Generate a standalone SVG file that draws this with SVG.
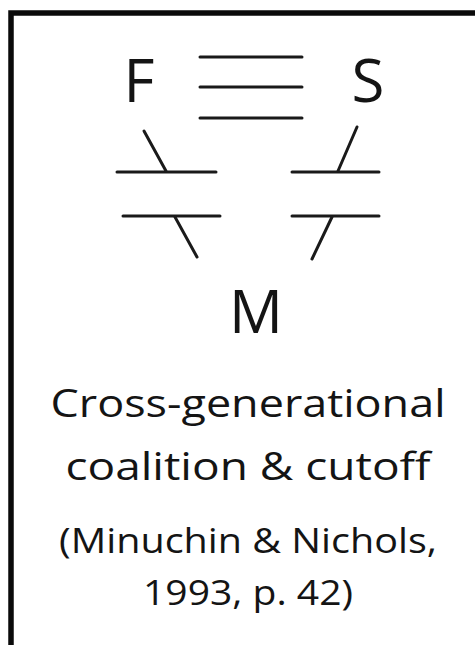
<svg xmlns="http://www.w3.org/2000/svg" width="475" height="645" viewBox="0 0 475 645">
<style>
.t{font-family:"Open Sans","Liberation Sans",sans-serif;fill:#141414;text-anchor:middle}
.big{font-size:60px}
.cap{font-size:39px}
.ref{font-size:35px}
.ln{stroke:#1a1a1a;stroke-width:3;stroke-linecap:round;fill:none}
</style>
<rect width="475" height="645" fill="#fff"/>
<path d="M11 650 V13 H480" fill="none" stroke="#0a0a0a" stroke-width="5.5"/>
<g id="node-F"><text class="t big" x="139" y="102">F</text></g>
<g id="node-S"><text class="t big" x="368" y="102">S</text></g>
<g id="node-M"><text class="t big" x="256" y="333">M</text></g>
<g id="connectors">
<line class="ln" x1="200" y1="57" x2="302" y2="57"/>
<line class="ln" x1="200" y1="87" x2="302" y2="87"/>
<line class="ln" x1="200" y1="118" x2="302" y2="118"/>
<line class="ln" x1="117" y1="172" x2="216" y2="172"/>
<line class="ln" x1="144" y1="131" x2="166" y2="171"/>
<line class="ln" x1="123" y1="216" x2="220" y2="216"/>
<line class="ln" x1="175" y1="217" x2="197" y2="257"/>
<line class="ln" x1="292" y1="172" x2="379" y2="172"/>
<line class="ln" x1="357" y1="127" x2="338" y2="171"/>
<line class="ln" x1="292" y1="216" x2="379" y2="216"/>
<line class="ln" x1="332" y1="217" x2="312" y2="259"/>
</g>
<g id="caption">
<text class="t cap" x="248" y="417" textLength="395" lengthAdjust="spacingAndGlyphs">Cross-generational</text>
<text class="t cap" x="248" y="480" textLength="365" lengthAdjust="spacingAndGlyphs">coalition &amp; cutoff</text>
<text class="t ref" x="248" y="553" textLength="378" lengthAdjust="spacingAndGlyphs">(Minuchin &amp; Nichols,</text>
<text class="t ref" x="248" y="605" textLength="210" lengthAdjust="spacingAndGlyphs">1993, p. 42)</text>
</g>
</svg>
